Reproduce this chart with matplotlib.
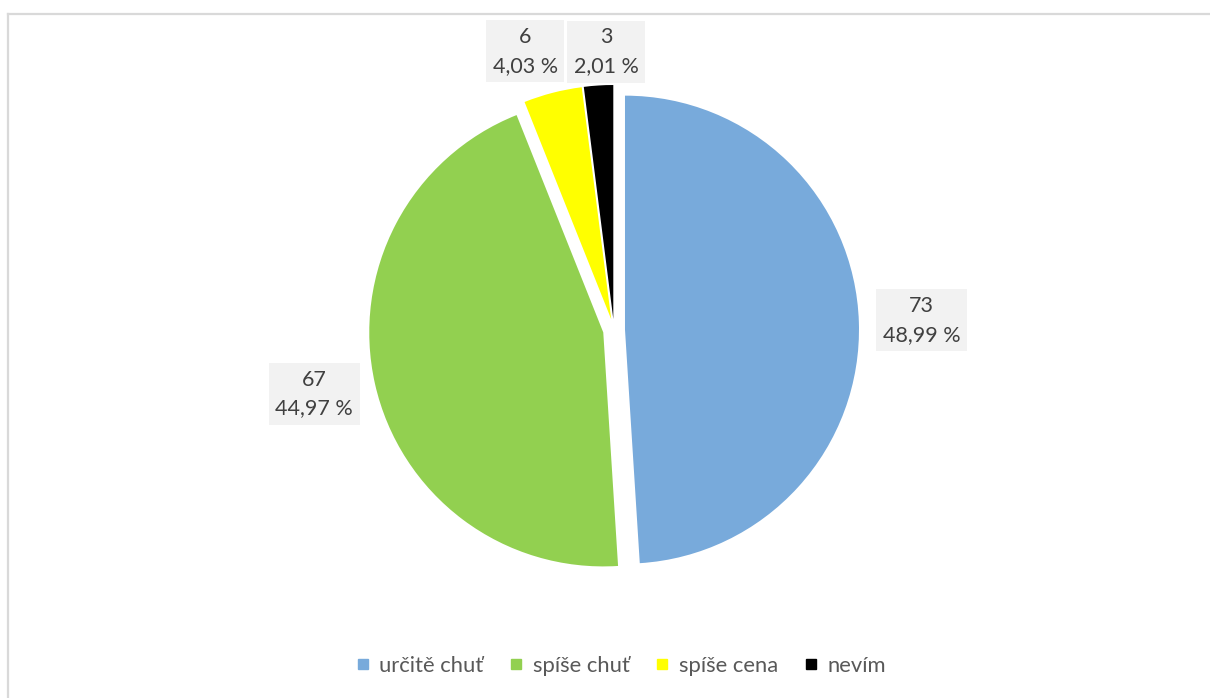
import matplotlib
matplotlib.use("Agg")
import matplotlib.pyplot as plt
from matplotlib.lines import Line2D
import numpy as np

# Survey answers: what decides the purchase
categories = ["určitě chuť", "spíše chuť", "spíše cena", "nevím"]
counts = [73, 67, 6, 3]
colors = ["#78AADB", "#92D050", "#FFFF00", "#000000"]

W, H = 1210, 698
fig = plt.figure(figsize=(W / 100, H / 100), dpi=100)
fig.patch.set_facecolor("white")

# Chart frame (light grey border, top and left visible)
fig.add_artist(Line2D([8 / W, 8 / W], [0, 1 - 14 / H], color="#D9D9D9", lw=1.6))
fig.add_artist(Line2D([8 / W, 1.0], [1 - 14 / H, 1 - 14 / H], color="#D9D9D9", lw=1.6))

# Pie axes: centre and radius in pixels
cx, cy, R = 614, 330, 234
half = 300
ax = fig.add_axes([(cx - half) / W, (H - cy - half) / H, 2 * half / W, 2 * half / H])

wedges, _ = ax.pie(counts, colors=colors, startangle=90, counterclock=False,
                   explode=[0.047] * len(counts), radius=1.0,
                   wedgeprops=dict(linewidth=0))
ax.set_xlim(-half / R, half / R)
ax.set_ylim(-half / R, half / R)
ax.set_aspect("equal")
ax.axis("off")

total = sum(counts)
font = ["Lato", "DejaVu Sans"]
text_color = "#404040"

# Label placement: distance from centre and angle nudge per wedge
label_dist = [1.315, 1.31, 1.25, 1.19]
angle_shift = [0.0, -0.6, 3.2, -2.0]
for w, n, d, s in zip(wedges, counts, label_dist, angle_shift):
    mid = np.deg2rad((w.theta1 + w.theta2) / 2 + s)
    pct = f"{n / total * 100:.2f}".replace(".", ",")
    ax.text(d * np.cos(mid), d * np.sin(mid), f"{n}\n{pct} %",
            ha="center", va="center", fontsize=15.5, color=text_color,
            family=font, linespacing=1.55, multialignment="center",
            bbox=dict(boxstyle="square,pad=0.3", facecolor="#F2F2F2",
                      edgecolor="none"))

handles = [Line2D([], [], marker="s", linestyle="none", markersize=7,
                  markerfacecolor=c, markeredgecolor=c) for c in colors]
fig.legend(handles, categories, loc="center", bbox_to_anchor=(621 / W, 1 - 666 / H),
           ncol=4, frameon=False, handlelength=0.6, handletextpad=0.45,
           columnspacing=1.2, prop=dict(family=font, size=15.8),
           labelcolor="#595959")

fig.savefig("out.png", dpi=100, facecolor="white")
